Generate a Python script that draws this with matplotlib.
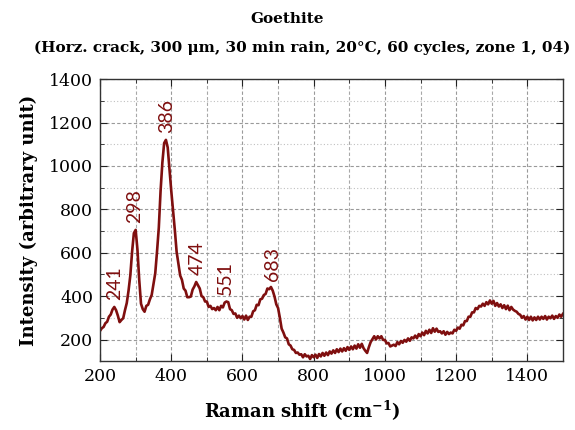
import numpy as np
import matplotlib.pyplot as plt

# Raman spectrum, intensity sampled every 5 cm-1 from 200 to 1500
shift = np.arange(200, 1501, 5)
intensity = [
    # 200-295
    240, 252, 258, 275, 282, 305, 315, 338, 350, 335,
    310, 280, 290, 298, 335, 368, 425, 495, 605, 690,
    # 300-395
    705, 615, 475, 365, 340, 328, 355, 360, 385, 405,
    455, 505, 605, 715, 885, 1015, 1105, 1120, 1085, 985,
    # 400-495
    885, 795, 705, 605, 550, 495, 475, 435, 425, 395,
    395, 398, 430, 445, 465, 450, 435, 400, 395, 375,
    # 500-595
    375, 350, 355, 340, 345, 335, 350, 335, 355, 348,
    370, 375, 372, 340, 335, 318, 320, 300, 310, 298,
    # 600-695
    308, 292, 310, 290, 305, 305, 330, 335, 360, 358,
    385, 388, 405, 410, 435, 432, 442, 425, 398, 362,
    # 700-795
    345, 300, 250, 232, 210, 205, 178, 172, 155, 152,
    138, 140, 130, 132, 118, 132, 122, 125, 110, 128,
    # 800-895
    118, 130, 115, 133, 122, 138, 125, 140, 128, 145,
    135, 150, 138, 155, 142, 158, 145, 160, 148, 165,
    # 900-995
    152, 168, 155, 172, 158, 178, 162, 180, 160, 148,
    138, 165, 188, 202, 215, 200, 215, 205, 215, 198,
    # 1000-1095
    198, 182, 184, 168, 172, 176, 170, 188, 178, 193,
    185, 198, 190, 205, 194, 210, 205, 218, 206, 225,
    # 1100-1195
    215, 232, 220, 240, 228, 245, 230, 252, 236, 250,
    235, 238, 228, 238, 222, 235, 225, 232, 228, 245,
    # 1200-1295
    240, 255, 250, 268, 265, 285, 285, 305, 305, 325,
    325, 345, 340, 355, 352, 365, 355, 372, 362, 380,
    # 1300-1395
    365, 378, 355, 368, 352, 362, 345, 358, 340, 356,
    335, 350, 338, 332, 328, 318, 314, 300, 308, 292,
    # 1400-1500
    305, 290, 305, 288, 302, 290, 305, 292, 305, 295,
    308, 292, 305, 298, 310, 295, 308, 300, 315, 305,
    318,
]

# labelled bands: position and the intensity at the band top
peak_shift = [241, 298, 386, 474, 551, 683]
peak_height = [350, 705, 1120, 465, 375, 440]

line_color = "#7f0f0f"

plt.rcParams["mathtext.fontset"] = "dejavuserif"

fig = plt.figure(figsize=(5.75, 4.3), dpi=100)
ax = fig.add_axes([0.174, 0.160, 0.805, 0.656])

ax.plot(shift, intensity, color=line_color, lw=1.9)

for pos, h in zip(peak_shift, peak_height):
    ax.text(pos, h + 30, str(pos), rotation=90, ha="center", va="bottom",
            color=line_color, fontsize=14, family="Lato")

ax.set_xlim(200, 1500)
ax.set_ylim(100, 1400)
ax.set_xticks(np.arange(200, 1401, 200))
ax.set_xticks(np.arange(300, 1500, 200), minor=True)
ax.set_yticks(np.arange(200, 1401, 200))
ax.set_yticks(np.arange(100, 1400, 200), minor=True)

ax.tick_params(which="both", direction="in", top=True, right=True,
               color="#222222")
ax.tick_params(which="major", length=5, labelsize=12.5, pad=5)
ax.tick_params(which="minor", length=3)
for lab in ax.get_xticklabels() + ax.get_yticklabels():
    lab.set_family("DejaVu Serif")

ax.grid(which="major", ls=(0, (3, 2)), color="#9a9a9a", lw=0.8)
ax.grid(which="minor", axis="x", ls=(0, (3, 2)), color="#a8a8a8", lw=0.8)
ax.grid(which="minor", axis="y", ls=(0, (1, 2)), color="#c0c0c0", lw=0.8)
ax.set_axisbelow(True)

for sp in ax.spines.values():
    sp.set_color("#333333")
    sp.set_linewidth(1.0)

ax.set_xlabel(r"Raman shift (cm$^{\mathbf{-1}}$)", family="DejaVu Serif",
              fontsize=13, fontweight="bold")
ax.xaxis.set_label_coords(0.437, -0.135)
ax.set_ylabel("Intensity (arbitrary unit)", family="DejaVu Serif",
              fontsize=13, fontweight="bold", labelpad=8)

fig.text(0.5, 0.955, "Goethite", ha="center", va="center",
         family="DejaVu Serif", fontsize=11, fontweight="bold")
fig.text(0.525, 0.888,
         "(Horz. crack, 300 \u03bcm, 30 min rain, 20\u00b0C, 60 cycles, zone 1, 04)",
         ha="center", va="center", family="DejaVu Serif", fontsize=11,
         fontweight="bold")

fig.savefig("out.png", dpi=100)
